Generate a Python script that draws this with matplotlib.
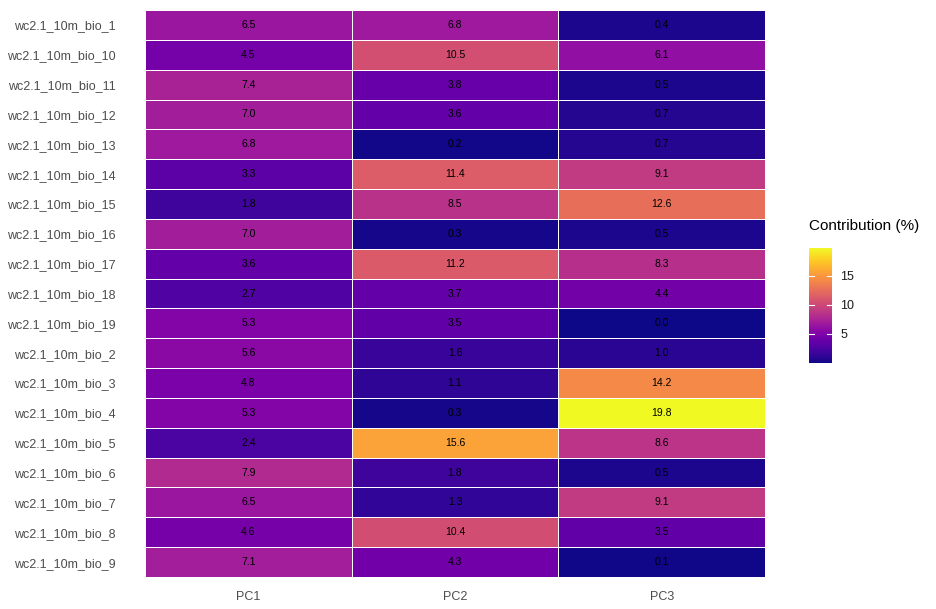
import matplotlib.pyplot as plt
import numpy as np

plt.rcParams['font.family'] = ['Liberation Sans', 'DejaVu Sans']

variables = ["wc2.1_10m_bio_1", "wc2.1_10m_bio_10", "wc2.1_10m_bio_11", "wc2.1_10m_bio_12",
             "wc2.1_10m_bio_13", "wc2.1_10m_bio_14", "wc2.1_10m_bio_15", "wc2.1_10m_bio_16",
             "wc2.1_10m_bio_17", "wc2.1_10m_bio_18", "wc2.1_10m_bio_19", "wc2.1_10m_bio_2",
             "wc2.1_10m_bio_3", "wc2.1_10m_bio_4", "wc2.1_10m_bio_5", "wc2.1_10m_bio_6",
             "wc2.1_10m_bio_7", "wc2.1_10m_bio_8", "wc2.1_10m_bio_9"]
components = ["PC1", "PC2", "PC3"]

pc1 = [6.5, 4.5, 7.4, 7.0, 6.8, 3.3, 1.8, 7.0, 3.6, 2.7, 5.3, 5.6, 4.8, 5.3, 2.4, 7.9, 6.5, 4.6, 7.1]
pc2 = [6.8, 10.5, 3.8, 3.6, 0.2, 11.4, 8.5, 0.3, 11.2, 3.7, 3.5, 1.6, 1.1, 0.3, 15.6, 1.8, 1.3, 10.4, 4.3]
pc3 = [0.4, 6.1, 0.5, 0.7, 0.7, 9.1, 12.6, 0.5, 8.3, 4.4, 0.0, 1.0, 14.2, 19.8, 8.6, 0.5, 9.1, 3.5, 0.1]

data = np.array([pc1, pc2, pc3]).T

fig = plt.figure(figsize=(9.37, 6.09), dpi=100)
ax = fig.add_axes([0.1548, 0.0525, 0.6616, 0.9311])

mesh = ax.pcolormesh(data, cmap="plasma", vmin=data.min(), vmax=data.max(),
                     edgecolors="white", linewidth=0.4)
ax.set_xlim(0, 3)
ax.set_ylim(len(variables), 0)

for i in range(len(variables)):
    for j in range(len(components)):
        ax.text(j + 0.5, i + 0.5, f"{data[i, j]:.1f}", ha="center", va="center",
                fontsize=7.5, color="black")

ax.set_xticks(np.arange(len(components)) + 0.5)
ax.set_xticklabels(components)
ax.set_yticks(np.arange(len(variables)) + 0.5)
ax.set_yticklabels(variables)
ax.tick_params(length=0, labelsize=9, labelcolor="#4D4D4D")
ax.tick_params(axis="y", pad=21)
ax.tick_params(axis="x", pad=10)
for s in ax.spines.values():
    s.set_visible(False)

cax = fig.add_axes([0.8634, 0.404, 0.0245, 0.189])
cb = fig.colorbar(mesh, cax=cax)
cb.set_ticks([5, 10, 15])
cb.outline.set_visible(False)
cax.tick_params(length=0, labelsize=9, labelcolor="#1A1A1A", pad=6)
for t in [5, 10, 15]:
    cax.plot([0, 0.2], [t, t], color="white", lw=0.8, transform=cax.get_yaxis_transform())
    cax.plot([0.8, 1.0], [t, t], color="white", lw=0.8, transform=cax.get_yaxis_transform())
fig.text(0.8634, 0.618, "Contribution (%)", fontsize=11, ha="left", va="bottom", color="black")

fig.savefig("out.png", dpi=100)
